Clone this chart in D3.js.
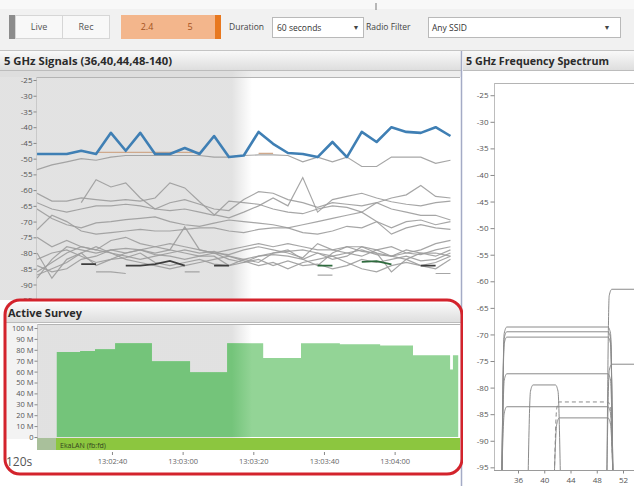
<!DOCTYPE html>
<html>
<head>
<meta charset="utf-8">
<script src="https://cdn.jsdelivr.net/npm/d3@7/dist/d3.min.js"></script>
<style>
  html, body { margin: 0; padding: 0; background: #fff; }
  svg { display: block; font-family: "Open Sans", "Noto Sans", sans-serif; }
</style>
</head>
<body>
<svg id="chart" width="634" height="486"></svg>
<script>
// ---------- toolbar ----------
const modeButtons = ["Live", "Rec"];
const bandButtons = ["2.4", "5"];
const durationChoice = "60 seconds";
const ssidChoice = "Any SSID";

// ---------- 5 GHz signals (dBm per scan, seconds after 13:02:00) ----------
const signalTicks = [-25, -30, -35, -40, -45, -50, -55, -60, -65, -70, -75, -80, -85, -90, -95];
const sampleSec = [18.8, 23.0, 27.2, 31.3, 35.5, 39.7, 43.9, 48.0, 52.2, 56.4, 60.6, 64.8, 68.9, 73.1,
                   77.3, 81.5, 85.6, 89.8, 94.0, 98.2, 102.4, 106.5, 110.7, 114.9, 119.1, 123.3, 127.4, 131.6, 135.8];
const strongestAp = [-48.5, -48.5, -48.5, -47.5, -48.5, -41.8, -47.5, -41.8, -48.5, -48.5, -46.6, -48.5, -42.8, -49.5,
                     -49, -41.5, -45.3, -48.2, -48.5, -49.5, -44.7, -49.5, -41.5, -44.7, -40, -41.5, -41.8, -40, -42.8];
const neighbourAps = [
  [-53.5, -52, -51, -50, -50.5, -49.5, -49, -49, -49, -49, -49, -49, -49.5, -49.5, -49, -48.8, -48.8, -49, -51, -49.5, -51, -49.5, -52.5, -52.5, -49.5, -49.5, -49.5, -51.5, -50.5],
  [null, null, null, -64, -56.7, -59, -57.7, -62.5, -66, -64, -63, -64.5, -66, -66.5, -63, -60.5, -61, -63, -64, -65.5, -64, -64.5, -65, -64, -62.5, -61.5, -58.5, -62, -62.5],
  [-61, -63.5, -63.5, -62.5, -63, -63.5, -63, -63.5, -62.5, -57.7, -59.3, -63.7, -67.8, -68.8, -67, -65, -62.5, -65, -56, -67, -63, -62, -61, -62.5, -63.7, -64.5, -65, -64, -63.5],
  [-64, -66, -67, -66, -65, -65, -64.5, -65, -66, -66.5, -66, -67, -68, -63.5, -64, -64.5, -66, -67, -67.5, -66, -65, -65.5, -67, -64, -66, -67, -68, -68, -69.5],
  [-66, -69, -71, -72, -70.4, -70, -69.4, -69, -68.5, -70, -71, -71.5, -70.5, -69.5, -70, -70.5, -71, -72, -71, -70, -69, -68, -67, -70, -72, -70, -69.5, -71, -70],
  [-72.6, -68, -70, -73, -74, -73.5, -73, -72.5, -73, -73, -72.5, -72, -72, -73, -73.5, -72.5, -72, -72, -73.5, -74, -73, -71.5, -72, -70, -74, -72, -71, -72, -72.5],
  [-88, -82, -78, -79, -80, -79, -78.5, -79, -80, -79, -71.7, -79, -80, -80.5, -79, -78, -79, -80, -81.5, -77, -79, -80, -81, -79, -78, -80, -80.5, -79, -78],
  [-86, -83, -80, -78, -79, -80, -81, -82, -81, -80, -79, -80, -79.5, -81, -82, -83, -80, -79, -82, -84, -80, -78, -79.5, -80, -86, -82, -80, -81, -79],
  [-84, -86, -85, -82, -81, -79, -80, -79, -80.5, -81, -82, -81, -81, -84, -82, -81, -80.5, -81, -82, -80, -82, -81, -78, -79, -81, -82, -84, -83, -81],
  [-80, -88, -82, -80, -84, -82, -81.5, -80, -83, -84, -83, -82, -83.5, -84, -83, -82, -84, -82.5, -84, -83.5, -85, -84, -82, -83, -82, -81, -82.5, -82, -80],
  [-87, -85, -83, -80, -78, -80, -82, -83, -84, -85, -84, -83, -82, -81, -82.5, -84, -83, -85, -83, -82, -81, -83, -85, -86, -84, -83, -84, -85, -82],
  [-82, -80, -79, -81, -83, -82, -80, -79, -78, -77, -78, -79, -80, -82, -83, -81, -80, -79.5, -79, -80, -81, -80, -79, -80.5, -81, -79, -80, -80, -81],
  [-75, -78, -76, -78, -79, -76, -75, -77, -78, -79, -80, -81, -80, -79, -78, -77, -78, -77, -78, -79, -79, -78, -78, -80, -81, -80, -79, -77, -76],
  [null, null, null, null, -86, -86, -86.5, null, null, null, -86, -86, null, null, null, null, null, null, null, -87, -87, null, null, null, null, null, null, -86.5, -86.5]
];
const tanTrace = [null, null, null, null, -48, -48, -48, -48, -48, -48, -48, -48, null, null, null, -48.3, -48.3, null, null, null, null, null, null, null, null, null, null, null, null];
const darkTrace = [null, null, null, -83.5, -83.5, null, -84, -84, -83.5, -82.5, -84, null, -84, -84, null, null, null, null, null, null, null, null, null, null, null, null, -84, -84, null];
const greenTrace = [null, null, null, null, null, null, null, null, null, null, null, null, null, null, null, null, null, null, null, -84, -84, null, -82.8, -82.6, -83.6, null, null, null, null];

// ---------- active survey (throughput steps, seconds after 13:02:00) ----------
const surveySec = [24.4, 31, 35.2, 40.9, 51.3, 62.1, 72.6, 82.8, 93.5, 104.5, 115.9, 125.2, 135.7, 136.5, 138.0];
const surveyMbps = [78, 79, 80.5, 86, 69.5, 59.5, 86, 72.5, 86, 85, 84, 75, 62, 75, 75];
const surveyTicks = [0, 10, 20, 30, 40, 50, 60, 70, 80, 90, 100];
const timeTicks = ["13:02:40", "13:03:00", "13:03:20", "13:03:40", "13:04:00"];
const surveyLink = "EkaLAN (fb:fd)";
const windowLabel = "120s";

// ---------- 5 GHz spectrum ----------
const channelTicks = [36, 40, 44, 48, 52];
const spectrumTicks = [-25, -30, -35, -40, -45, -50, -55, -60, -65, -70, -75, -80, -85, -90, -95];
const chanLo = [34, 34, 34, 34, 34, 38, 42, 42, 50, 50];
const chanHi = [50, 50, 50, 50, 50, 42, 50, 50, 66, 66];
const chanLevel = [-68.6, -69.5, -70.5, -77.4, -83.6, -79.5, -82.7, -85.7, -61.5, -75.6];
const chanDashed = [false, false, false, false, false, false, true, false, false, false];

// ---------- drawing ----------
const svg = d3.select("#chart");
const defs = svg.append("defs");

const tbar = defs.append("linearGradient").attr("id", "tbar")
  .attr("x1", 0).attr("y1", 0).attr("x2", 0).attr("y2", 1);
tbar.append("stop").attr("offset", 0).attr("stop-color", "#f9f9f9");
tbar.append("stop").attr("offset", 1).attr("stop-color", "#dedede");

// older half of the window is shaded, fading out at its right edge
function shadeGradient(id, color, alpha) {
  const g = defs.append("linearGradient").attr("id", id)
    .attr("gradientUnits", "userSpaceOnUse")
    .attr("x1", 0).attr("x2", 252).attr("y1", 0).attr("y2", 0);
  g.append("stop").attr("offset", 0).attr("stop-color", color).attr("stop-opacity", alpha);
  g.append("stop").attr("offset", 0.92).attr("stop-color", color).attr("stop-opacity", alpha);
  g.append("stop").attr("offset", 1).attr("stop-color", color).attr("stop-opacity", 0);
}
shadeGradient("shadeSig", "#d9d9d9", 0.75);
shadeGradient("shadeSurvey", "#dcdcdc", 0.85);
shadeGradient("shadeGreen", "#74c47a", 1);

defs.append("clipPath").attr("id", "clipSig").append("rect")
  .attr("x", 37).attr("y", 78).attr("width", 423).attr("height", 220);
defs.append("clipPath").attr("id", "clipSpec").append("rect")
  .attr("x", 495).attr("y", 84).attr("width", 139).attr("height", 386);

// page background + toolbar
svg.append("rect").attr("width", 634).attr("height", 486).attr("fill", "#ffffff");
svg.append("rect").attr("x", 0).attr("y", 0).attr("width", 634).attr("height", 51).attr("fill", "#f1f1f1");
svg.append("rect").attr("x", 0).attr("y", 0).attr("width", 634).attr("height", 9).attr("fill", "#f8f8f8");
svg.append("line").attr("x1", 376).attr("x2", 376).attr("y1", 3).attr("y2", 10)
  .attr("stroke", "#777").attr("stroke-width", 1);
svg.append("line").attr("x1", 0).attr("x2", 634).attr("y1", 50.5).attr("y2", 50.5)
  .attr("stroke", "#c4c4c4");

const tb = svg.append("g");
tb.append("rect").attr("x", 9).attr("y", 15).attr("width", 6).attr("height", 24).attr("fill", "#8c8c8c");
const modeX = [15, 62];
modeButtons.forEach((m, i) => {
  tb.append("rect").attr("x", modeX[i] + 0.5).attr("y", 15.5).attr("width", 47).attr("height", 23)
    .attr("fill", "#f8f8f8").attr("stroke", "#d6d6d6");
  tb.append("text").attr("x", modeX[i] + 24).attr("y", 30).attr("text-anchor", "middle")
    .attr("font-size", 9).attr("fill", "#555").text(m);
});
tb.append("rect").attr("x", 121).attr("y", 15).attr("width", 96).attr("height", 24).attr("fill", "#f3b68c");
tb.append("rect").attr("x", 215).attr("y", 15).attr("width", 6).attr("height", 24).attr("fill", "#e8781f");
const bandX = [147, 190];
bandButtons.forEach((b, i) => {
  tb.append("text").attr("x", bandX[i]).attr("y", 30).attr("text-anchor", "middle")
    .attr("font-size", 9).attr("fill", "#a5531e").text(b);
});
tb.append("text").attr("x", 229).attr("y", 30).attr("font-size", 8.5).attr("fill", "#444").text("Duration");
tb.append("rect").attr("x", 272.5).attr("y", 17.5).attr("width", 91).attr("height", 20)
  .attr("fill", "#fff").attr("stroke", "#b9b9b9");
tb.append("text").attr("x", 277).attr("y", 30.5).attr("font-size", 8.5).attr("fill", "#333").text(durationChoice);
tb.append("text").attr("x", 356).attr("y", 30).attr("text-anchor", "middle").attr("font-size", 7).attr("fill", "#444").text("▼");
tb.append("text").attr("x", 366).attr("y", 30).attr("font-size", 8.5).attr("fill", "#444").text("Radio Filter");
tb.append("rect").attr("x", 428.5).attr("y", 17.5).attr("width", 192).attr("height", 20)
  .attr("fill", "#fff").attr("stroke", "#b9b9b9");
tb.append("text").attr("x", 432).attr("y", 30.5).attr("font-size", 8.5).attr("fill", "#333").text(ssidChoice);
tb.append("text").attr("x", 607).attr("y", 30).attr("text-anchor", "middle").attr("font-size", 7).attr("fill", "#444").text("▼");

// panel title bars
function titleBar(x, y, w, h, label, len, tx) {
  svg.append("rect").attr("x", x).attr("y", y).attr("width", w).attr("height", h).attr("fill", "url(#tbar)");
  svg.append("line").attr("x1", x).attr("x2", x + w).attr("y1", y + h + 0.5).attr("y2", y + h + 0.5).attr("stroke", "#bcbcbc");
  svg.append("text").attr("x", tx).attr("y", y + h - 5).attr("font-size", 10.5).attr("font-weight", 700)
    .attr("fill", "#2a2a2a").attr("textLength", len).attr("lengthAdjust", "spacingAndGlyphs").text(label);
}

// ---------- signals panel ----------
const t0 = new Date(2024, 0, 1, 13, 2, 0).getTime();
const at = s => new Date(t0 + s * 1000);
const tickSec = str => { const p = str.split(":").map(Number); return p[0] * 3600 + p[1] * 60 + p[2] - (13 * 3600 + 2 * 60); };

const xTime = d3.scaleTime().domain([at(18.5), at(138.5)]).range([36, 460]);
const ySig = d3.scaleLinear().domain([-25, -90]).range([80, 284.5]);

svg.append("rect").attr("x", 0).attr("y", 71).attr("width", 461).attr("height", 229).attr("fill", "#ffffff");
svg.append("rect").attr("x", 0).attr("y", 71).attr("width", 461).attr("height", 6).attr("fill", "#ededed");
svg.append("rect").attr("x", 0).attr("y", 71).attr("width", 252).attr("height", 229).attr("fill", "url(#shadeSig)");
titleBar(0, 51, 461, 19, "5 GHz Signals (36,40,44,48-140)", 168, 4);
svg.append("line").attr("x1", 36).attr("x2", 460).attr("y1", 77.5).attr("y2", 77.5).attr("stroke", "#b4b4b4");

const yAxisSig = svg.append("g").attr("transform", "translate(36.5,0)")
  .call(d3.axisLeft(ySig).tickValues(signalTicks).tickSize(3).tickFormat(d => String(d)));
yAxisSig.select(".domain").attr("stroke", "#c9c9c9").attr("d", "M0,77V300");
yAxisSig.selectAll(".tick line").attr("stroke", "#888");
yAxisSig.selectAll(".tick text").attr("font-size", 8).attr("fill", "#555").attr("font-family", "Open Sans").attr("x", -4);

const sigLine = d3.line()
  .defined(d => d != null)
  .x((d, i) => xTime(at(sampleSec[i])))
  .y(d => ySig(d));

const sigG = svg.append("g").attr("clip-path", "url(#clipSig)");
neighbourAps.forEach(series => {
  sigG.append("path").attr("d", sigLine(series)).attr("fill", "none")
    .attr("stroke", "#9c9c9c").attr("stroke-width", 1.2).attr("stroke-opacity", 0.9);
});
sigG.append("path").attr("d", sigLine(tanTrace)).attr("fill", "none")
  .attr("stroke", "#cfa98c").attr("stroke-width", 1.3);
sigG.append("path").attr("d", sigLine(darkTrace)).attr("fill", "none")
  .attr("stroke", "#3d3d3d").attr("stroke-width", 1.8);
sigG.append("path").attr("d", sigLine(greenTrace)).attr("fill", "none")
  .attr("stroke", "#2f6b3e").attr("stroke-width", 1.8);
sigG.append("path").attr("d", sigLine(strongestAp)).attr("fill", "none")
  .attr("stroke", "#3f7fb4").attr("stroke-width", 2.6).attr("stroke-linejoin", "round");

// ---------- active survey panel ----------
const yTp = d3.scaleLinear().domain([0, 100]).range([437, 328]);

svg.append("rect").attr("x", 5).attr("y", 300).attr("width", 457).attr("height", 174).attr("rx", 15).attr("fill", "#ffffff");
titleBar(6, 303, 455, 19, "Active Survey", 74, 8);
svg.append("rect").attr("x", 6).attr("y", 323).attr("width", 31).attr("height", 116).attr("fill", "#f3f3f3");
svg.append("rect").attr("x", 37).attr("y", 325).attr("width", 215).attr("height", 113).attr("fill", "url(#shadeSurvey)");
svg.append("line").attr("x1", 37).attr("x2", 460).attr("y1", 324.5).attr("y2", 324.5).attr("stroke", "#b4b4b4");

const surveyPts = surveySec.map((s, i) => ({ t: at(s), v: surveyMbps[i] }));
const surveyArea = d3.area().curve(d3.curveStepAfter).x(d => xTime(d.t)).y0(yTp(0)).y1(d => yTp(d.v));
svg.append("path").datum(surveyPts).attr("d", surveyArea).attr("fill", "#93d496");
svg.append("path").datum(surveyPts).attr("d", surveyArea).attr("fill", "url(#shadeGreen)");

// link bar
svg.append("rect").attr("x", 37).attr("y", 438).attr("width", 423).attr("height", 12).attr("fill", "#8cc63f");
svg.append("rect").attr("x", 37).attr("y", 438).attr("width", 19).attr("height", 12).attr("fill", "#a9c09b");
svg.append("text").attr("x", 60).attr("y", 447.5).attr("font-size", 7).attr("fill", "#33441f").text(surveyLink);

const yAxisTp = svg.append("g").attr("transform", "translate(37.5,0)")
  .call(d3.axisLeft(yTp).tickValues(surveyTicks).tickSize(3).tickFormat(d => d === 0 ? "0" : d + " M"));
yAxisTp.select(".domain").attr("stroke", "#c9c9c9").attr("d", "M0,324V438");
yAxisTp.selectAll(".tick line").attr("stroke", "#888");
yAxisTp.selectAll(".tick text").attr("font-size", 7.5).attr("fill", "#555").attr("font-family", "Open Sans").attr("x", -4);

const xAxisT = svg.append("g").attr("transform", "translate(0,452)")
  .call(d3.axisBottom(xTime).tickValues(timeTicks.map(s => at(tickSec(s))))
    .tickSize(3).tickFormat(d3.timeFormat("%H:%M:%S")));
xAxisT.select(".domain").remove();
xAxisT.selectAll(".tick line").attr("stroke", "#888");
xAxisT.selectAll(".tick text").attr("font-size", 7.5).attr("fill", "#666").attr("font-family", "Open Sans").attr("y", 7);

svg.append("text").attr("x", 6).attr("y", 466).attr("font-size", 12).attr("fill", "#555").text(windowLabel);

// panel divider
svg.append("line").attr("x1", 461.5).attr("x2", 461.5).attr("y1", 51).attr("y2", 486)
  .attr("stroke", "#a4abc6").attr("stroke-width", 1.5);

// red highlight around the survey panel
svg.append("rect").attr("x", 5).attr("y", 300).attr("width", 457).attr("height", 174).attr("rx", 15)
  .attr("fill", "none").attr("stroke", "#d3232c").attr("stroke-width", 3);

// ---------- spectrum panel ----------
const xChan = d3.scaleLinear().domain([36, 52]).range([518, 623]);
const ySpec = d3.scaleLinear().domain([-22.7, -95.5]).range([83, 470]);

svg.append("rect").attr("x", 463).attr("y", 71).attr("width", 171).attr("height", 415).attr("fill", "#ffffff");
titleBar(463, 51, 171, 19, "5 GHz Frequency Spectrum", 143, 466);
svg.append("line").attr("x1", 494).attr("x2", 634).attr("y1", 83.5).attr("y2", 83.5).attr("stroke", "#b4b4b4");

const yAxisSp = svg.append("g").attr("transform", "translate(494.5,0)")
  .call(d3.axisLeft(ySpec).tickValues(spectrumTicks).tickSize(4).tickFormat(d => String(d)));
yAxisSp.select(".domain").attr("stroke", "#bdbdbd").attr("d", "M0,83V470");
yAxisSp.selectAll(".tick line").attr("stroke", "#888");
yAxisSp.selectAll(".tick text").attr("font-size", 8).attr("fill", "#555").attr("font-family", "Open Sans").attr("x", -6);

const xAxisSp = svg.append("g").attr("transform", "translate(0,470.5)")
  .call(d3.axisBottom(xChan).tickValues(channelTicks).tickSize(3));
xAxisSp.select(".domain").attr("stroke", "#9a9a9a").attr("d", "M494,0H634");
xAxisSp.selectAll(".tick line").attr("stroke", "#888");
xAxisSp.selectAll(".tick text").attr("font-size", 8).attr("fill", "#555").attr("font-family", "Open Sans").attr("y", 7);

// channel masks: flat top at the received level, steep rounded skirts
const maskLine = d3.line().curve(d3.curveMonotoneX).x(d => xChan(d[0])).y(d => ySpec(d[1]));
const specG = svg.append("g").attr("clip-path", "url(#clipSpec)");
chanLo.forEach((lo, i) => {
  const hi = chanHi[i], lv = chanLevel[i], floor = -96;
  const pts = [[lo - 0.45, floor], [lo - 0.1, lv - 1.2], [lo + 0.3, lv], [hi - 0.3, lv], [hi + 0.1, lv - 1.2], [hi + 0.45, floor]];
  specG.append("path").attr("d", maskLine(pts)).attr("fill", "none")
    .attr("stroke", "#8a8a8a").attr("stroke-width", 1)
    .attr("stroke-dasharray", chanDashed[i] ? "4,3" : null);
});
</script>
</body>
</html>
